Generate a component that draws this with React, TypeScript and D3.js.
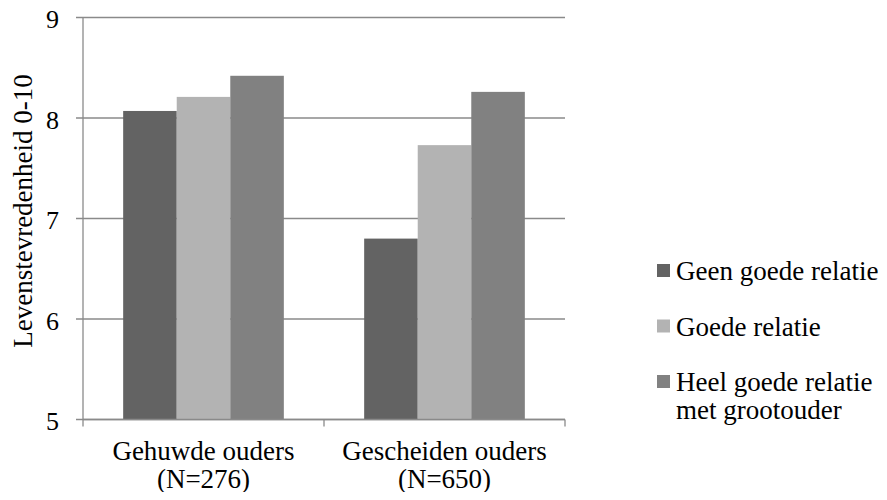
import React from "react";
import * as d3 from "d3";

const categories = ["Gehuwde ouders", "Gescheiden ouders"];
const categorySub = ["(N=276)", "(N=650)"];
const seriesNames = ["Geen goede relatie", "Goede relatie", "Heel goede relatie"];
const legendLines = [["Geen goede relatie"], ["Goede relatie"], ["Heel goede relatie", "met grootouder"]];
const seriesColors = ["#636363", "#b3b3b3", "#818181"];
const geenGoede = [8.07, 6.8];
const goede = [8.21, 7.73];
const heelGoede = [8.42, 8.26];
const yTicks = [5, 6, 7, 8, 9];
const yTitle = "Levenstevredenheid 0-10";

const W = 887;
const H = 500;
const FONT = "'Liberation Serif', serif";

export default function App() {
  const values = [geenGoede, goede, heelGoede];
  const x0 = d3.scaleBand<string>().domain(categories).range([83, 565]).paddingInner(0).paddingOuter(0);
  const y = d3.scaleLinear().domain([5, 9]).range([419.5, 17.5]);
  const bw = x0.bandwidth() / 4.5;
  const x1 = d3.scaleBand<string>().domain(seriesNames).range([bw * 0.75, x0.bandwidth() - bw * 0.75]).padding(0);
  const gridColor = "#8a8a8a";
  return (
    <div style={{ margin: -8 }}>
      <svg width={W} height={H} style={{ display: "block", background: "#fff" }} fontFamily={FONT}>
        {yTicks.map((t) => (
          <g key={t}>
            <line x1={76} x2={565} y1={y(t)} y2={y(t)} stroke={gridColor} strokeWidth={1.3} />
            <text x={59} y={y(t) + 10.5} textAnchor="end" fontSize={26} fill="#000">
              {t}
            </text>
          </g>
        ))}
        {categories.map((c, ci) =>
          seriesNames.map((s, si) => {
            const v = values[si][ci];
            return (
              <rect
                key={c + s}
                x={(x0(c) as number) + (x1(s) as number)}
                y={y(v)}
                width={x1.bandwidth()}
                height={y(5) - y(v)}
                fill={seriesColors[si]}
              />
            );
          })
        )}
        <line x1={83} x2={83} y1={y(9)} y2={y(5)} stroke={gridColor} strokeWidth={1.3} />
        <line x1={83} x2={565} y1={y(5)} y2={y(5)} stroke={gridColor} strokeWidth={1.3} />
        {[83, 83 + x0.bandwidth(), 565].map((xx, i) => (
          <line key={i} x1={xx} x2={xx} y1={y(5)} y2={y(5) + 7} stroke={gridColor} strokeWidth={1.3} />
        ))}
        {categories.map((c, ci) => {
          const cx = (x0(c) as number) + x0.bandwidth() / 2;
          return (
            <g key={c}>
              <text x={cx} y={460} textAnchor="middle" fontSize={27} fill="#000">
                {c}
              </text>
              <text x={cx} y={488} textAnchor="middle" fontSize={27} fill="#000">
                {categorySub[ci]}
              </text>
            </g>
          );
        })}
        <text transform={`translate(32,211) rotate(-90)`} textAnchor="middle" fontSize={27} fill="#000">
          {yTitle}
        </text>
        {seriesNames.map((s, i) => {
          const base = 280 + i * 55.5;
          return (
            <g key={s}>
              <rect x={657} y={base - 16} width={13} height={13} fill={seriesColors[i]} />
              {legendLines[i].map((ln, li) => (
                <text key={li} x={676} y={base + li * 28} fontSize={27} fill="#000">
                  {ln}
                </text>
              ))}
            </g>
          );
        })}
      </svg>
    </div>
  );
}
